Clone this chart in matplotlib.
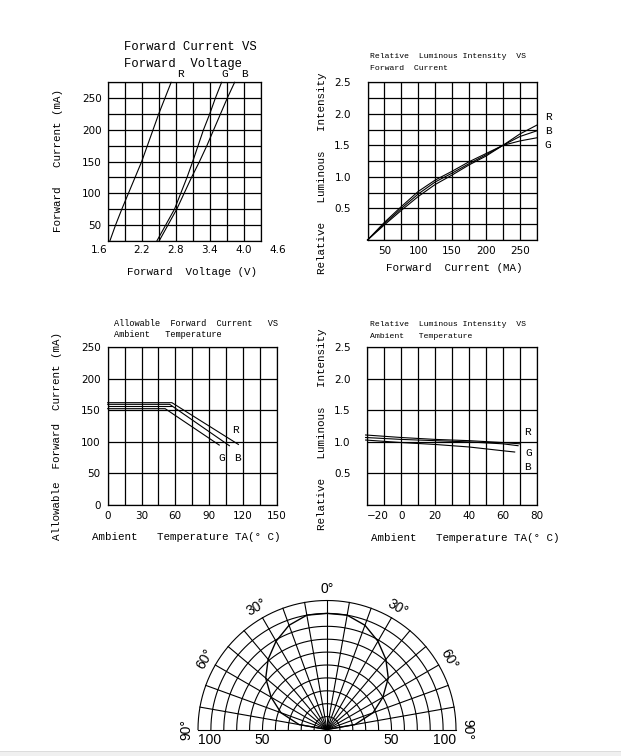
import numpy as np
import matplotlib.pyplot as plt
from matplotlib.patches import Rectangle

W, H = 621, 756
MONO = ['Liberation Mono', 'DejaVu Sans Mono']
SANS = ['DejaVu Sans']

# Forward current vs forward voltage
fv_current_r = [25, 50, 75, 150, 225, 275]
fv_voltage_r = [1.64, 1.74, 1.85, 2.20, 2.50, 2.72]
fv_current_g = [25, 75, 100, 125, 150, 200, 225, 250, 275]
fv_voltage_g = [2.47, 2.78, 2.89, 3.00, 3.10, 3.29, 3.40, 3.50, 3.61]
fv_current_b = [25, 75, 125, 150, 175, 200, 225, 250, 275]
fv_voltage_b = [2.51, 2.82, 3.08, 3.22, 3.35, 3.47, 3.59, 3.71, 3.84]
fv_xticks = [1.6, 2.2, 2.8, 3.4, 4.0, 4.6]
fv_yticks = [50, 100, 150, 200, 250]

# Relative luminous intensity vs forward current
lum_current = [25, 50, 75, 100, 125, 150, 175, 200, 225, 250, 275]
lum_r = [0, 0.24, 0.47, 0.69, 0.88, 1.03, 1.19, 1.33, 1.50, 1.68, 1.82]
lum_b = [0, 0.26, 0.50, 0.73, 0.92, 1.06, 1.21, 1.35, 1.50, 1.64, 1.73]
lum_g = [0, 0.28, 0.53, 0.77, 0.95, 1.09, 1.24, 1.37, 1.50, 1.57, 1.62]
lum_xticks = [50, 100, 150, 200, 250]
lum_yticks = [0.5, 1.0, 1.5, 2.0, 2.5]

# Allowable forward current vs ambient temperature
der_temp_r = [0, 57, 116]
der_cur_r = [162.2, 162.2, 96]
der_temp_b = [0, 55, 108]
der_cur_b = [159.6, 159.6, 94]
der_temp_g = [0, 51, 99]
der_cur_g = [152.7, 152.7, 95]
der_temp_x = [0, 57]
der_cur_x = [156.9, 156.9]
der_xticks = [0, 30, 60, 90, 120, 150]
der_yticks = [0, 50, 100, 150, 200, 250]

# Relative luminous intensity vs ambient temperature
amb_temp_r = [-21, 0, 20, 40, 60, 70]
amb_rel_r = [1.11, 1.07, 1.04, 1.02, 0.99, 0.97]
amb_temp_g = [-21, 0, 20, 40, 60, 69]
amb_rel_g = [1.07, 1.04, 1.02, 1.00, 0.97, 0.94]
amb_temp_b = [-21, 0, 20, 40, 60, 67]
amb_rel_b = [1.03, 0.99, 0.96, 0.92, 0.86, 0.84]
amb_xticks = [-20, 0, 20, 40, 60, 80]
amb_yticks = [0.5, 1.0, 1.5, 2.0, 2.5]

# Radiation pattern
beam_angle = [0, 10, 20, 30, 40, 50, 60, 70, 80, 90]
beam_rel = [90, 90, 86, 79, 71, 62, 50, 38, 22, 0]
polar_labels = [-90, -60, -30, 0, 30, 60, 90]
polar_scale = [-100, -50, 0, 50, 100]

fig = plt.figure(figsize=(W / 100, H / 100), dpi=100)


def add_axes_px(x0, y0, x1, y1):
    return fig.add_axes([x0 / W, 1 - y1 / H, (x1 - x0) / W, (y1 - y0) / H])


def ftext(x, y, s, **kw):
    kw.setdefault('va', 'center')
    kw.setdefault('family', MONO)
    fig.text(x / W, 1 - y / H, s, **kw)


def grid_axes(box, xlim, ylim, xstep, ystep, ypad):
    ax = add_axes_px(*box)
    ax.set_xlim(*xlim)
    ax.set_ylim(*ylim)
    ax.set_xticks(np.arange(xlim[0], xlim[1] + xstep / 2, xstep), minor=True)
    ax.set_yticks(np.arange(ylim[0], ylim[1] + ystep / 2, ystep), minor=True)
    ax.grid(which='both', color='black', lw=0.9)
    ax.tick_params(which='both', length=0, labelsize=7.5)
    ax.tick_params(axis='y', pad=ypad)
    ax.tick_params(axis='x', pad=4.5)
    for sp in ax.spines.values():
        sp.set_linewidth(0.9)
    for lab in ax.get_xticklabels() + ax.get_yticklabels():
        lab.set_family(SANS)
    return ax


line_kw = dict(color='black', lw=0.8, clip_on=False)

# ---- top left ----
ax1 = grid_axes((107.7, 82.3, 260.7, 240.7), (1.6, 4.3), (25, 275), 0.3, 25, 4.3)
ax1.set_xticks([])
ax1.set_xticks(np.arange(1.6, 4.31, 0.3), minor=True)
ax1.set_yticks(fv_yticks)
ax1.grid(which='both', color='black', lw=0.9)
for lab in ax1.get_yticklabels():
    lab.set_family(SANS)
for v in fv_xticks:
    ax1.text(v, -0.06, f'{v:.1f}', transform=ax1.get_xaxis_transform(),
             ha='right' if v == fv_xticks[0] else 'center', va='center',
             fontsize=7.5, family=SANS, clip_on=False)
ax1.plot(fv_voltage_r, fv_current_r, **line_kw)
ax1.plot(fv_voltage_g, fv_current_g, **line_kw)
ax1.plot(fv_voltage_b, fv_current_b, **line_kw)
ftext(124, 47, 'Forward Current VS', fontsize=8.8)
ftext(124, 64, 'Forward  Voltage', fontsize=8.8)
ftext(180, 74, 'R', fontsize=8, ha='center')
ftext(225, 74, 'G', fontsize=8, ha='center')
ftext(244, 74, 'B', fontsize=8, ha='center')
ftext(58, 160, 'Forward   Current (mA)', fontsize=7.8, rotation=90, ha='center')
ftext(192, 272, 'Forward  Voltage (V)', fontsize=7.8, ha='center')

# ---- top right ----
ax2 = grid_axes((367.5, 82.3, 536.7, 240.0), (25, 275), (0, 2.5), 25, 0.25, 12)
ax2.set_xticks(lum_xticks)
ax2.set_yticks(lum_yticks)
ax2.set_yticklabels([f'{v:.1f}' for v in lum_yticks])
for lab in ax2.get_xticklabels() + ax2.get_yticklabels():
    lab.set_family(SANS)
ax2.plot(lum_current, lum_r, **line_kw)
ax2.plot(lum_current, lum_b, **line_kw)
ax2.plot(lum_current, lum_g, **line_kw)
ftext(370, 57, 'Relative  Luminous Intensity  VS', fontsize=5.9)
ftext(370, 69, 'Forward  Current', fontsize=5.9)
ftext(548, 117, 'R', fontsize=8, ha='center')
ftext(548, 131, 'B', fontsize=8, ha='center')
ftext(548, 145, 'G', fontsize=8, ha='center')
ftext(322, 173, 'Relative   Luminous   Intensity', fontsize=7.8, rotation=90, ha='center')
ftext(454, 268, 'Forward  Current (MA)', fontsize=7.8, ha='center')

# ---- bottom left ----
ax3 = grid_axes((107.7, 347.3, 276.7, 505.0), (0, 150), (0, 250), 15, 50, 5)
ax3.set_xticks(der_xticks)
ax3.set_yticks(der_yticks)
for lab in ax3.get_xticklabels() + ax3.get_yticklabels():
    lab.set_family(SANS)
ax3.plot(der_temp_r, der_cur_r, **line_kw)
ax3.plot(der_temp_b, der_cur_b, **line_kw)
ax3.plot(der_temp_g, der_cur_g, **line_kw)
ax3.plot(der_temp_x, der_cur_x, **line_kw)
ftext(114, 323, 'Allowable  Forward  Current   VS', fontsize=6.2)
ftext(114, 334, 'Ambient   Temperature', fontsize=6.2)
ftext(235, 430, 'R', fontsize=8, ha='center')
ftext(222, 458, 'G', fontsize=8, ha='center')
ftext(237, 458, 'B', fontsize=8, ha='center')
ftext(57, 436, 'Allowable  Forward  Current (mA)', fontsize=7.8, rotation=90, ha='center')
ftext(92, 537, 'Ambient   Temperature TA(\u00b0 C)', fontsize=7.8, ha='left')

# ---- bottom right ----
ax4 = grid_axes((367.3, 347.3, 536.7, 505.0), (-20, 80), (0, 2.5), 10, 0.5, 12)
ax4.set_xticks(amb_xticks)
ax4.set_yticks(amb_yticks)
ax4.set_yticklabels([f'{v:.1f}' for v in amb_yticks])
for lab in ax4.get_xticklabels() + ax4.get_yticklabels():
    lab.set_family(SANS)
ax4.get_xticklabels()[0].set_ha('left')
ax4.plot(amb_temp_r, amb_rel_r, **line_kw)
ax4.plot(amb_temp_g, amb_rel_g, **line_kw)
ax4.plot(amb_temp_b, amb_rel_b, **line_kw)
ftext(370, 324, 'Relative  Luminous Intensity  VS', fontsize=5.9)
ftext(370, 336, 'Ambient   Temperature', fontsize=5.9)
ftext(527, 432, 'R', fontsize=8, ha='center')
ftext(529, 453, 'G', fontsize=8, ha='center')
ftext(527, 467, 'B', fontsize=8, ha='center')
ftext(322, 429, 'Relative   Luminous   Intensity', fontsize=7.8, rotation=90, ha='center')
ftext(371, 538, 'Ambient   Temperature TA(\u00b0 C)', fontsize=7.8, ha='left')

# ---- radiation pattern ----
ax5 = add_axes_px(198, 600.5, 456, 729.5)
ax5.set_xlim(-100, 100)
ax5.set_ylim(0, 100)
ax5.set_axis_off()
th = np.radians(np.linspace(-90, 90, 361))
for r in range(10, 101, 10):
    ax5.plot(r * np.sin(th), r * np.cos(th), color='black', lw=0.8, clip_on=False)
for a in range(-90, 91, 10):
    t = np.radians(a)
    ax5.plot([0, 100 * np.sin(t)], [0, 100 * np.cos(t)], color='black', lw=0.8, clip_on=False)
ang = np.radians(np.concatenate([-np.array(beam_angle[::-1]), beam_angle[1:]]))
rel = np.concatenate([beam_rel[::-1], beam_rel[1:]])
ax5.plot(rel * np.sin(ang), rel * np.cos(ang), color='black', lw=1.0, clip_on=False)
for a in polar_labels:
    t = np.radians(a)
    ax5.text(109 * np.sin(t), 109 * np.cos(t), f'{abs(a)}\u00b0', rotation=-a,
             ha='center', va='center', fontsize=10, family=['Liberation Sans'],
             rotation_mode='anchor', clip_on=False)
for v in polar_scale:
    ha = 'left' if v == -100 else ('right' if v == 100 else 'center')
    ax5.text(v, -3, f'{abs(v)}', ha=ha, va='top', fontsize=10,
             family=['Liberation Sans'], clip_on=False)

# window strip at the bottom
fig.patches.append(Rectangle((0, 0), 1, 4 / H, transform=fig.transFigure,
                             facecolor='#f0f0f0', edgecolor='none'))
fig.patches.append(Rectangle((0, 4 / H), 1, 1 / H, transform=fig.transFigure,
                             facecolor='#dcdcdc', edgecolor='none'))

fig.savefig('out.png', dpi=100)
